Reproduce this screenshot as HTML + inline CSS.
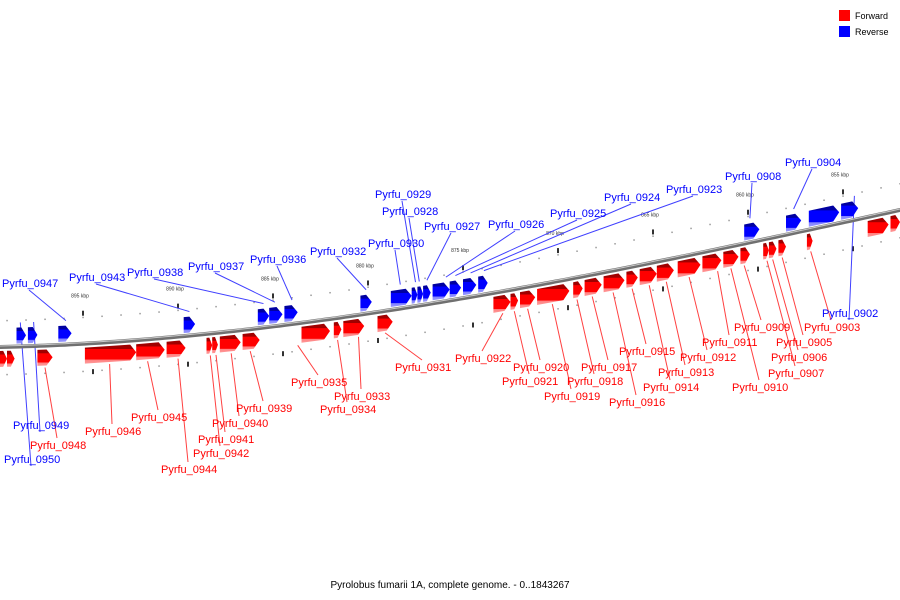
<!DOCTYPE html>
<html><head><meta charset="utf-8">
<style>
html,body{margin:0;padding:0;background:#fff;width:900px;height:600px;overflow:hidden;font-family:"Liberation Sans",sans-serif}
svg{display:block}
</style></head><body>
<svg id="chart" width="900" height="600" viewBox="0 0 900 600">
<defs>
<linearGradient id="gf" x1="0" y1="0" x2="0" y2="1">
<stop offset="0" stop-color="#a00000"/><stop offset="0.22" stop-color="#a00000"/><stop offset="0.24" stop-color="#ff0000"/><stop offset="0.78" stop-color="#ff0000"/><stop offset="0.8" stop-color="#ff8080"/><stop offset="1" stop-color="#ff9a9a"/>
</linearGradient>
<linearGradient id="gr" x1="0" y1="0" x2="0" y2="1">
<stop offset="0" stop-color="#0000a0"/><stop offset="0.22" stop-color="#0000a0"/><stop offset="0.24" stop-color="#0000ff"/><stop offset="0.78" stop-color="#0000ff"/><stop offset="0.8" stop-color="#8080ff"/><stop offset="1" stop-color="#9a9aff"/>
</linearGradient>
</defs>
<g id="scale"></g>
<g id="leaders"></g>
<g id="backbone"></g>
<g id="genes"></g>
<g id="labels"></g>
<g>
<rect x="839" y="10" width="11" height="11" fill="#ff0000"/>
<text x="855" y="19" font-size="9" fill="#000">Forward</text>
<rect x="839" y="26" width="11" height="11" fill="#0000ff"/>
<text x="855" y="35" font-size="9" fill="#000">Reverse</text>
</g>
<text x="450" y="588" font-size="10" text-anchor="middle" fill="#000">Pyrolobus fumarii 1A, complete genome. - 0..1843267</text>
</svg>
<script>
// gene data (kbp)
const fwdStart=[899.0,898.6,896.6,892.2,890.7,889.6,888.2,887.9,886.7,885.7,882.0,881.4,880.2,878.7,872.5,872.1,871.2,869.4,868.7,867.7,866.5,865.8,864.8,863.9,862.5,861.4,860.5,859.9,858.9,858.5,858.0,856.6,852.6,852.0];
const fwdEnd=[899.4,899.0,897.4,894.9,892.2,890.6,888.5,888.2,887.8,886.6,883.5,881.8,881.3,879.5,873.4,872.5,872.0,871.1,869.2,868.6,867.6,866.4,865.7,864.8,863.7,862.4,861.3,860.4,859.2,858.9,858.4,856.9,853.7,852.5];
const revStart=[898.0,897.4,895.6,889.1,885.2,884.5,883.7,879.8,877.7,877.4,877.1,876.7,875.7,875.1,874.3,873.7,859.4,857.2,855.2,854.2];
const revEnd=[898.5,897.9,896.3,889.7,885.8,885.2,884.4,880.4,878.8,877.7,877.4,877.1,876.6,875.7,875.0,874.2,860.2,858.0,856.8,855.1];
const tickKbp=[855,860,865,870,875,880,885,890,895];
// labels: name, strand(1 fwd/0 rev), target kbp
const labelNames=["Pyrfu_0947","Pyrfu_0943","Pyrfu_0938","Pyrfu_0937","Pyrfu_0936","Pyrfu_0932","Pyrfu_0930","Pyrfu_0929","Pyrfu_0928","Pyrfu_0927","Pyrfu_0926","Pyrfu_0925","Pyrfu_0924","Pyrfu_0923","Pyrfu_0908","Pyrfu_0904","Pyrfu_0902","Pyrfu_0949","Pyrfu_0950","Pyrfu_0948","Pyrfu_0946","Pyrfu_0945","Pyrfu_0944","Pyrfu_0942","Pyrfu_0941","Pyrfu_0940","Pyrfu_0939","Pyrfu_0935","Pyrfu_0934","Pyrfu_0933","Pyrfu_0931","Pyrfu_0922","Pyrfu_0921","Pyrfu_0920","Pyrfu_0919","Pyrfu_0918","Pyrfu_0917","Pyrfu_0916","Pyrfu_0915","Pyrfu_0914","Pyrfu_0913","Pyrfu_0912","Pyrfu_0911","Pyrfu_0910","Pyrfu_0909","Pyrfu_0907","Pyrfu_0906","Pyrfu_0905","Pyrfu_0903"];
const labelStrand=[0,0,0,0,0,0,0,0,0,0,0,0,0,0,0,0,0,0,0,1,1,1,1,1,1,1,1,1,1,1,1,1,1,1,1,1,1,1,1,1,1,1,1,1,1,1,1,1,1];
const labelTarget=[895.9,889.4,885.5,884.9,884.0,880.1,878.3,877.5,877.3,876.9,875.9,875.4,874.6,873.9,859.9,857.6,854.4,897.6,898.3,897.0,893.6,891.6,890.0,888.3,888.0,887.2,886.2,883.7,881.6,880.5,879.1,872.9,872.3,871.6,870.3,869.0,868.2,867.1,866.1,865.2,864.3,863.1,861.6,860.9,860.2,859.0,858.7,858.2,856.7];
</script>
<script>
// layout (pixel positions of label text)
const labelPos=[[2,287],[69,281],[127,276],[188,270],[250,263],[310,255],[368,247],[375,198],[382,215],[424,230],[488,228],[550,217],[604,201],[666,193],[725,180],[785,166],[822,317],[13,429],[4,463],[30,449],[85,435],[131,421],[161,473],[193,457],[198,443],[212,427],[236,412],[291,386],[320,413],[334,400],[395,371],[455,362],[502,385],[513,371],[544,400],[567,385],[581,371],[609,406],[619,355],[643,391],[658,376],[680,361],[702,346],[732,391],[734,331],[768,377],[771,361],[776,346],[804,331]];
const NS="http://www.w3.org/2000/svg";
function mk(t,a){const e=document.createElementNS(NS,t);for(const k in a)e.setAttribute(k,a[k]);return e;}
function xOf(k){return 843-(k-855)*19;}
const P=[[0,347],[300,323],[600,273],[900,210]];
function yOf(x){let s=0;for(let i=0;i<4;i++){let l=P[i][1];for(let j=0;j<4;j++)if(j!==i)l*=(x-P[j][0])/(P[i][0]-P[j][0]);s+=l;}return s;}
// backbone
let d="";for(let x=-5;x<=905;x+=5)d+=(x===-5?"M":"L")+x+","+yOf(x).toFixed(1);
const bb=document.getElementById("backbone");
const b1=mk("path",{d:d,stroke:"#707070","stroke-width":"4",fill:"none"});


bb.appendChild(b1);
const b2=mk("path",{d:d,stroke:"#c8c8c8","stroke-width":"1",fill:"none",transform:"translate(0,-1)"});


bb.appendChild(b2);
// scale dots & ticks
const sc=document.getElementById("scale");
for(let k=851;k<=901;k++){
  const x=xOf(k),y=yOf(x);
  [-27,27].forEach(o=>{const c=mk("rect",{x:x-0.7,y:y+o,width:1.5,height:1.5,fill:"#999"});
  
  
  sc.appendChild(c);});
}
tickKbp.forEach(k=>{
  const x=xOf(k),y=yOf(x);
  const t=mk("rect",{x:x-0.8,y:y-33,width:1.6,height:5,fill:"#000"});
  
  
  sc.appendChild(t);
  const t2=mk("rect",{x:x-0.8+10,y:yOf(x+10)+26,width:1.6,height:5,fill:"#000"});
  
  
  sc.appendChild(t2);
  const lb=mk("text",{x:x-3,y:y-46,"font-size":"5","text-anchor":"middle",fill:"#333"});
  lb.textContent=k+" kbp";
  
  
  sc.appendChild(lb);
});
// genes
const gg=document.getElementById("genes");
function gene(s,e,fwd){
  const xl=xOf(e),xr=xOf(s),w=xr-xl,h=16;
  const off=fwd?4:-3-h;
  const yl=yOf(xl)+off,yr=yOf(xr)+off;
  const ah=Math.min(6,w*0.5),xm=xr-ah,ym=yOf(xm)+off;
  const pts=[[xl,yl],[xm,ym],[xr,yr+h/2],[xm,ym+h],[xl,yl+h]].map(p=>p[0].toFixed(1)+","+p[1].toFixed(1)).join(" ");
  const p=mk("polygon",{points:pts,fill:fwd?"url(#gf)":"url(#gr)"});
  
  
  gg.appendChild(p);
}
fwdStart.forEach((s,i)=>gene(s,fwdEnd[i],true));
revStart.forEach((s,i)=>gene(s,revEnd[i],false));
// labels
const lg=document.getElementById("labels"),ld=document.getElementById("leaders");
labelNames.forEach((n,i)=>{
  const f=labelStrand[i]===1,col=f?"#ff0000":"#0000ff";
  const [lx,ly]=labelPos[i];
  const tx=xOf(labelTarget[i]),ty=yOf(tx)+(f?22:-24);
  const ax=lx+27,ay=f?ly-11:ly+3;
  const l=mk("line",{x1:ax,y1:ay,x2:tx,y2:ty,stroke:f?"#ff4040":"#4040ff","stroke-width":"1"});
  
  
  ld.appendChild(l);
  const t=mk("text",{x:lx,y:ly,"font-size":"11",fill:col});
  t.textContent=n;
  
  
  lg.appendChild(t);
});
</script>
</body></html>
